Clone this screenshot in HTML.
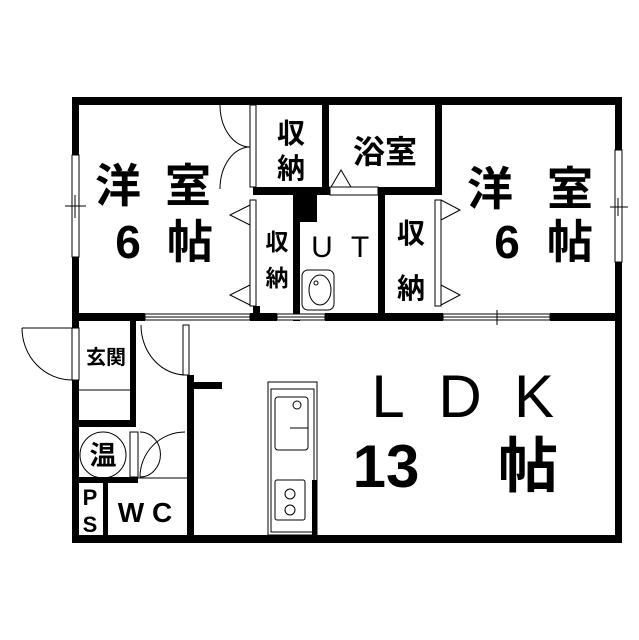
<!DOCTYPE html>
<html><head><meta charset="utf-8"><style>
html,body{margin:0;padding:0;background:#fff;}
svg{display:block;}
text{font-family:"Liberation Sans","Noto Sans CJK JP",sans-serif;fill:#000;text-anchor:middle;font-weight:bold;}
text.n{font-weight:normal;}
</style></head><body>
<svg width="639" height="640" viewBox="0 0 639 640" xmlns="http://www.w3.org/2000/svg">
<rect width="639" height="640" fill="#fff"/>
<g fill="#000">
<rect x="72" y="97" width="550" height="8"/>
<rect x="72" y="97" width="7" height="446"/>
<rect x="615" y="97" width="7" height="446"/>
<rect x="72" y="535" width="550" height="8"/>
<rect x="72" y="313" width="73" height="8"/>
<rect x="250" y="313" width="27" height="8"/>
<rect x="325" y="313" width="118" height="8"/>
<rect x="550" y="313" width="72" height="8"/>
<rect x="253" y="97" width="7" height="8"/>
<rect x="253" y="187" width="77" height="8"/>
<rect x="253" y="306" width="7" height="15"/>
<rect x="322" y="97" width="7" height="98"/>
<rect x="293" y="195" width="7" height="126"/>
<rect x="293" y="195" width="24" height="27"/>
<rect x="378" y="187" width="7" height="134"/>
<rect x="378" y="187" width="64" height="8"/>
<rect x="435" y="97" width="7" height="98"/>
<rect x="130" y="321" width="6" height="106"/>
<rect x="79" y="420" width="57" height="7"/>
<rect x="79" y="477" width="59" height="6"/>
<rect x="103" y="483" width="5" height="55"/>
<rect x="187" y="375" width="7" height="168"/>
<rect x="194" y="382" width="28" height="7"/>
<rect x="312" y="480" width="5" height="55"/>
</g>
<g fill="#fff" stroke="#000" stroke-width="1">
<rect x="72" y="155" width="7" height="102"/>
<rect x="615" y="150" width="7" height="112"/>
<rect x="145" y="314" width="105" height="3"/><rect x="145" y="317" width="105" height="3"/>
<rect x="277" y="314" width="48" height="3"/><rect x="277" y="317" width="48" height="3"/>
<rect x="443" y="314" width="107" height="3"/><rect x="443" y="317" width="107" height="3"/>
<rect x="72" y="328" width="7" height="52"/>
<rect x="183" y="325" width="6" height="50"/>
<rect x="130" y="432" width="8" height="45"/>
<rect x="250" y="105" width="6" height="82"/>
<rect x="250" y="200" width="6" height="106"/>
<rect x="435" y="200" width="6" height="106"/>
<rect x="330" y="187" width="48" height="8"/>
</g>
<g fill="none" stroke="#000" stroke-width="1">
<line x1="65" y1="206" x2="86" y2="206"/><line x1="75" y1="195" x2="75" y2="218"/>
<line x1="610" y1="207" x2="628" y2="207"/><line x1="618" y1="198" x2="618" y2="216"/>
<line x1="497" y1="310" x2="497" y2="325"/><line x1="490" y1="317" x2="505" y2="317"/>
<path d="M22,328 A50,52 0 0 0 72,380"/><line x1="22" y1="328" x2="72" y2="328"/>
<path d="M141,325 A45,50 0 0 0 186,375"/>
<path d="M220,105 A30,42 0 0 0 250,147 A30,42 0 0 0 220,189"/>
<path d="M140,477 A45,45 0 0 1 185,432"/><path d="M140,432 A20,22 0 0 1 140,477"/>
<polyline points="250,205 230,215 250,225"/>
<polyline points="250,285 230,295 250,305"/>
<polyline points="441,200 460,210 441,220"/>
<polyline points="441,285 460,295 441,305"/>
<polyline points="331,187 341,170 351,187"/>
<line x1="79" y1="390" x2="130" y2="390"/>
<line x1="136" y1="478" x2="187" y2="478"/>
<rect x="302" y="270" width="32" height="40" rx="6"/>
<ellipse cx="320" cy="290" rx="11" ry="15"/>
<circle cx="316" cy="283" r="2"/>
<circle cx="103" cy="455" r="23"/>
<path d="M268,382 L317,382 L317,535 L268,535 Z"/>
<rect x="271" y="389" width="43" height="143"/>
<rect x="275" y="397" width="33" height="53" rx="3"/>
<circle cx="297" cy="405" r="4"/>
<line x1="290" y1="428" x2="308" y2="428"/>
<rect x="275" y="480" width="30" height="40" rx="2"/>
<circle cx="290" cy="494" r="5"/><circle cx="290" cy="510" r="5"/>
</g>
<text x="118" y="202" font-size="46">洋</text>
<text x="188" y="202" font-size="46">室</text>
<text x="128" y="258" font-size="46">6</text>
<text x="190" y="258" font-size="46">帖</text>
<text x="490" y="205" font-size="46">洋</text>
<text x="570" y="205" font-size="46">室</text>
<text x="507" y="258" font-size="46">6</text>
<text x="570" y="258" font-size="46">帖</text>
<text x="291" y="143" font-size="28">収</text>
<text x="291" y="178" font-size="28">納</text>
<text x="277" y="250" font-size="23">収</text>
<text x="277" y="286" font-size="23">納</text>
<text x="411" y="243" font-size="28">収</text>
<text x="411" y="298" font-size="28">納</text>
<text x="385" y="163" font-size="32">浴室</text>
<text class="n" x="322" y="257" font-size="30">U</text>
<text class="n" x="360" y="257" font-size="30">T</text>
<text x="106" y="364" font-size="20">玄関</text>
<text x="103" y="465" font-size="27">温</text>
<text x="90" y="505" font-size="22">P</text>
<text x="90" y="532" font-size="22">S</text>
<text x="145" y="522" font-size="28">W C</text>
<text class="n" x="388" y="417" font-size="60">L</text>
<text class="n" x="460" y="417" font-size="60">D</text>
<text class="n" x="534" y="417" font-size="60">K</text>
<text x="386" y="487" font-size="60">13</text>
<text x="528" y="487" font-size="60">帖</text>
</svg>
</body></html>
